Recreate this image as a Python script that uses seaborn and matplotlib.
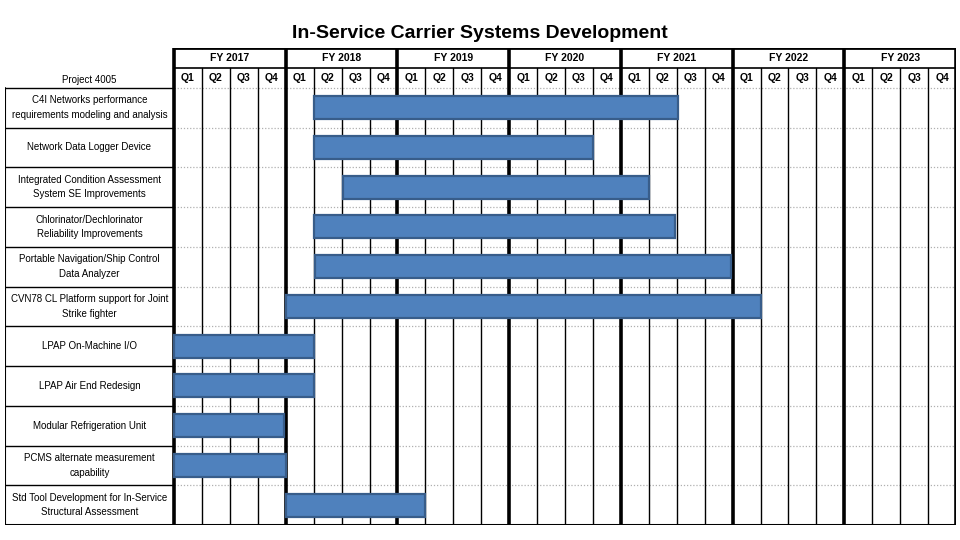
import matplotlib.pyplot as plt
import seaborn as sns
import numpy as np

projects = [
    "C4I Networks performance\nrequirements modeling and analysis",
    "Network Data Logger Device",
    "Integrated Condition Assessment\nSystem SE Improvements",
    "Chlorinator/Dechlorinator\nReliability Improvements",
    "Portable Navigation/Ship Control\nData Analyzer",
    "CVN78 CL Platform support for Joint\nStrike fighter",
    "LPAP On-Machine I/O",
    "LPAP Air End Redesign",
    "Modular Refrigeration Unit",
    "PCMS alternate measurement\ncapability",
    "Std Tool Development for In-Service\nStructural Assessment",
]
# start / end in quarters counted from FY2017 Q1
start_q = [5, 5, 6.05, 5, 5.05, 4, 0, 0, 0, 0, 4]
end_q = [18.05, 15, 17, 17.95, 19.93, 21, 5, 5, 3.95, 4, 9]
fiscal_years = ["FY 2017", "FY 2018", "FY 2019", "FY 2020", "FY 2021", "FY 2022", "FY 2023"]
quarters = ["Q1", "Q2", "Q3", "Q4"]
header_label = "Project 4005"

sns.set_style("white")
plt.rcParams["font.family"] = ["Liberation Sans", "DejaVu Sans"]
plt.rcParams["text.color"] = "black"

fig = plt.figure(figsize=(9.6, 5.4), dpi=100)
ax = fig.add_axes([5 / 960, 1 - 525 / 540, 951 / 960, 477 / 540])

n_q = len(fiscal_years) * 4
n_rows = len(projects)
label_w = 169 / ((956 - 174) / n_q)

ax.set_xlim(-label_w, n_q)
ax.set_ylim(n_rows, -1)
ax.axis("off")

# bars
ypos = np.arange(n_rows) + 0.5
widths = [e - s for s, e in zip(start_q, end_q)]
ax.barh(ypos, widths, left=start_q, height=0.58, color="#4F81BD",
        edgecolor="#385D8A", linewidth=1.6, zorder=6)

# row separators
for r in range(0, n_rows):
    ax.plot([0, n_q], [r, r], color="#b0b0b0", lw=0.9, ls=(0, (1, 1.5)), zorder=1)
    ax.plot([-label_w, 0], [r, r], color="black", lw=1.0, zorder=2)
ax.plot([-label_w, n_q], [n_rows, n_rows], color="black", lw=2.2, zorder=7, solid_capstyle="butt")
ax.plot([-label_w, -label_w], [0, n_rows], color="black", lw=1.5, zorder=4)

# quarter / year vertical lines
for q in range(n_q + 1):
    if q % 4 == 0:
        ax.plot([q, q], [-1, n_rows], color="black", lw=2.6, zorder=4, solid_capstyle="butt")
    else:
        ax.plot([q, q], [-0.5, n_rows], color="black", lw=1.0, zorder=2)

# header horizontal lines
ax.plot([0, n_q], [-1, -1], color="black", lw=2.0, zorder=4)
ax.plot([0, n_q], [-0.5, -0.5], color="black", lw=1.2, zorder=4)

# header text
for i, fy in enumerate(fiscal_years):
    ax.text(i * 4 + 2, -0.75, fy, ha="center", va="center", fontsize=7.5,
            fontweight="bold")
    for j, q in enumerate(quarters):
        ax.text(i * 4 + j + 0.5, -0.25, q, ha="center", va="center", fontsize=7.5,
                fontweight="bold")

ax.text(-label_w / 2, -0.2, header_label, ha="center", va="center", fontsize=7)

for r, name in enumerate(projects):
    ax.text(-label_w / 2, r + 0.5, name, ha="center", va="center", fontsize=7,
            linespacing=1.55)

fig.text(480 / 960, 1 - 33 / 540, "In-Service Carrier Systems Development",
         ha="center", va="center", fontsize=14, fontweight="bold")

fig.savefig("out.png", dpi=100, facecolor="white")
